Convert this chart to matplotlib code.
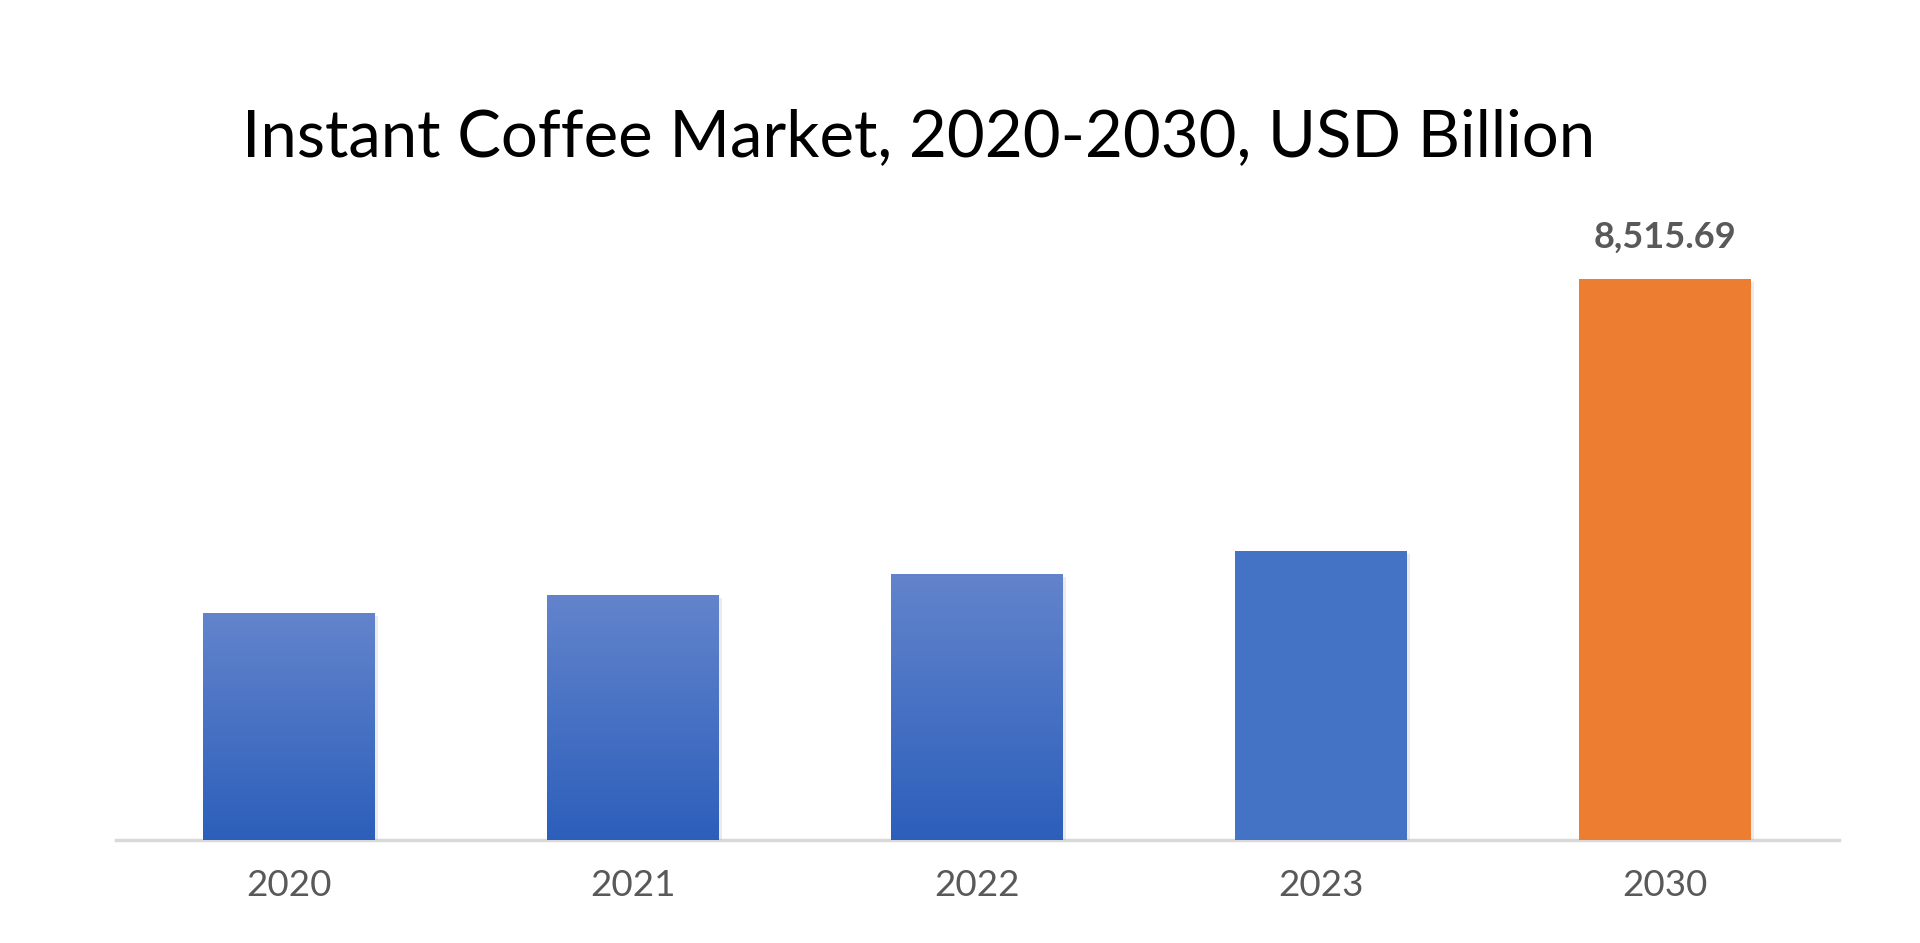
import numpy as np
import matplotlib
matplotlib.use("Agg")
import matplotlib.pyplot as plt
import matplotlib.patheffects as pe
from matplotlib.colors import LinearSegmentedColormap

years = ["2020", "2021", "2022", "2023", "2030"]
values = [3446, 3719, 4038, 4387, 8515.69]
labels = ["", "", "", "", "8,515.69"]
colors = ["#4472c4", "#4472c4", "#4472c4", "#4472c4", "#ed7d31"]
gradient = [True, True, True, False, False]

fig = plt.figure(figsize=(19.2, 9.43), dpi=100)
ax = fig.add_axes([116 / 1920, 103 / 943, 1723 / 1920, 640 / 943])

x = np.arange(len(years))
bars = ax.bar(x, values, width=0.5, color=colors, zorder=2)

# soft shadow around the bars
shadow = [pe.SimplePatchShadow(offset=(0, -1), shadow_rgbFace="#9a9a9a", alpha=0.3),
          pe.SimplePatchShadow(offset=(2, -2), shadow_rgbFace="#b0b0b0", alpha=0.25),
          pe.Normal()]
grad_cmap = LinearSegmentedColormap.from_list("blue_grad", ["#2c5fbb", "#6384cc"])

for bar, g in zip(bars, gradient):
    bar.set_path_effects(shadow)
    if g:
        x0, y0 = bar.get_x(), bar.get_y()
        w, h = bar.get_width(), bar.get_height()
        img = ax.imshow(np.linspace(0, 1, 256).reshape(-1, 1), cmap=grad_cmap,
                        extent=[x0, x0 + w, y0, y0 + h], origin="lower",
                        aspect="auto", zorder=3)
        img.set_clip_path(bar)

for bar, lab in zip(bars, labels):
    if lab:
        ax.text(bar.get_x() + bar.get_width() / 2, bar.get_height() + 380, lab,
                ha="center", va="bottom", fontsize=26, fontweight="bold",
                color="#595959", family="Lato")

ax.set_xlim(-0.503, 4.506)
ax.set_ylim(0, 8515.69 * 640 / 561)
ax.set_xticks(x)
ax.set_xticklabels(years, fontsize=26.5, color="#595959", family="Lato")
ax.tick_params(axis="x", length=0, pad=21)
ax.set_yticks([])
for s in ["top", "right", "left"]:
    ax.spines[s].set_visible(False)
ax.spines["bottom"].set_color("#d9d9d9")
ax.spines["bottom"].set_linewidth(2.5)
ax.spines["bottom"].set_zorder(1)

fig.text(242 / 1920, 1 - 138 / 943, "Instant Coffee Market, 2020-2030, USD Billion",
         ha="left", va="center", fontsize=47, color="black", family="Lato")

fig.savefig("out.png", dpi=100, facecolor="white")
